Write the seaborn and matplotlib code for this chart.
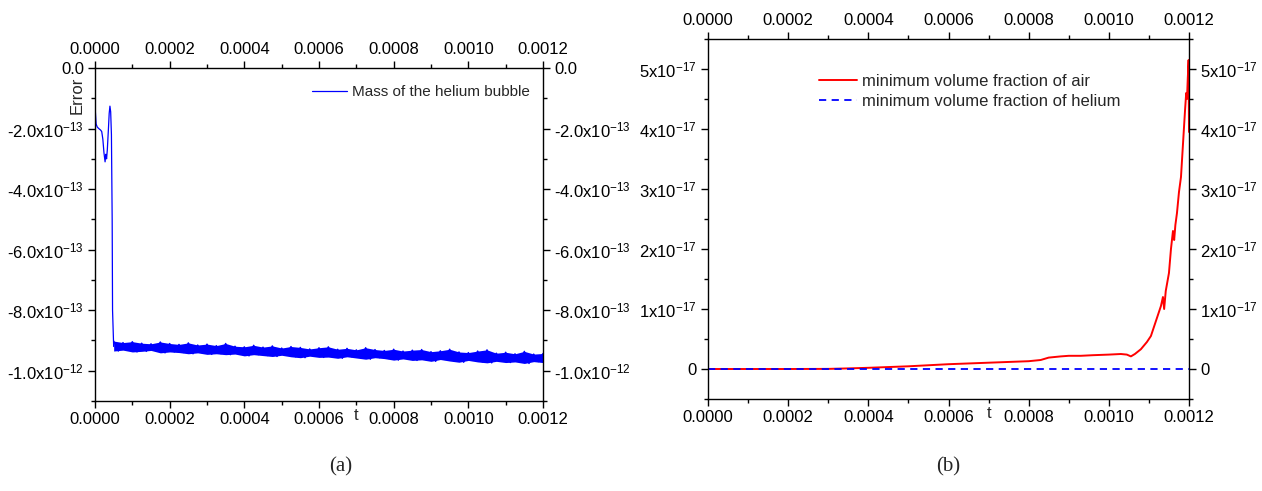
import numpy as np
import matplotlib
matplotlib.use("Agg")
import matplotlib.pyplot as plt
from matplotlib.ticker import FixedLocator, FuncFormatter
import seaborn as sns

# ---- panel (a): mass error of the helium bubble (t in 1e-4 s, error in 1e-13) ----
early_t = [0.0, 0.01, 0.03, 0.06, 0.10, 0.15, 0.18, 0.21, 0.24, 0.27, 0.29,
           0.31, 0.33, 0.36, 0.38, 0.40, 0.42, 0.44, 0.46, 0.47, 0.50]
early_err = [-1.30, -1.45, -1.85, -1.95, -2.00, -2.05, -2.10, -2.35, -2.80, -3.10, -2.85,
             -3.00, -2.70, -2.00, -1.50, -1.26, -1.45, -2.20, -5.00, -8.00, -9.20]

band_t = [0.5, 0.75, 1.0, 1.25, 1.5, 1.75, 2.0, 2.25, 2.5, 2.75, 3.0, 3.25,
          3.5, 3.75, 4.0, 4.25, 4.5, 4.75, 5.0, 5.25, 5.5, 5.75, 6.0, 6.25,
          6.5, 6.75, 7.0, 7.25, 7.5, 7.75, 8.0, 8.25, 8.5, 8.75, 9.0, 9.25,
          9.5, 9.75, 10.0, 10.25, 10.5, 10.75, 11.0, 11.25, 11.5, 11.75, 12.0]
band_upper = [-9.02, -9.07, -9.04, -9.09, -9.11, -9.05, -9.10, -9.13, -9.08, -9.15,
              -9.12, -9.17, -9.10, -9.19, -9.21, -9.16, -9.22, -9.18, -9.25, -9.20,
              -9.23, -9.28, -9.24, -9.21, -9.29, -9.26, -9.31, -9.24, -9.30, -9.33,
              -9.29, -9.35, -9.32, -9.30, -9.37, -9.34, -9.29, -9.38, -9.40, -9.35,
              -9.31, -9.42, -9.39, -9.44, -9.36, -9.45, -9.43]
band_lower = [-9.35, -9.32, -9.38, -9.36, -9.33, -9.41, -9.38, -9.40, -9.44, -9.41,
              -9.46, -9.44, -9.47, -9.45, -9.51, -9.47, -9.50, -9.53, -9.49, -9.54,
              -9.57, -9.52, -9.56, -9.55, -9.59, -9.54, -9.58, -9.62, -9.57, -9.60,
              -9.65, -9.61, -9.66, -9.64, -9.69, -9.63, -9.68, -9.72, -9.66, -9.71,
              -9.74, -9.69, -9.73, -9.71, -9.76, -9.70, -9.73]

# ---- panel (b): minimum volume fractions (t in 1e-4 s, value in 1e-17) ----
air_t = [0.0, 1.0, 2.0, 3.0, 3.5, 4.0, 5.0, 6.0, 7.0, 8.0, 8.3, 8.5, 8.8, 9.0, 9.3,
         9.6, 10.0, 10.3, 10.45, 10.55, 10.65, 10.8, 10.95, 11.05, 11.15, 11.25,
         11.3, 11.35, 11.38, 11.42, 11.5, 11.55, 11.6, 11.63, 11.66, 11.7, 11.75,
         11.8, 11.85, 11.9, 11.93, 11.95, 11.97, 11.99, 12.0]
air_min = [0.0, 0.0, 0.0, 0.002, 0.01, 0.02, 0.045, 0.08, 0.105, 0.13, 0.15, 0.19, 0.21, 0.22, 0.22,
           0.23, 0.24, 0.25, 0.24, 0.21, 0.25, 0.33, 0.45, 0.55, 0.75, 0.95,
           1.05, 1.20, 1.00, 1.30, 1.60, 2.00, 2.30, 2.15, 2.40, 2.60, 2.95,
           3.20, 3.75, 4.30, 4.60, 4.50, 4.85, 5.15, 3.95]
helium_t = [0.0, 12.0]
helium_min = [0.0, 0.0]

# tick positions
t_major = [0.0, 0.0002, 0.0004, 0.0006, 0.0008, 0.0010, 0.0012]
t_minor = [0.0001, 0.0003, 0.0005, 0.0007, 0.0009, 0.0011]
err_major = [-1.0e-12, -8e-13, -6e-13, -4e-13, -2e-13, 0.0]
err_minor = [-1.1e-12, -9e-13, -7e-13, -5e-13, -3e-13, -1e-13]
frac_major = [0.0, 1e-17, 2e-17, 3e-17, 4e-17, 5e-17]
frac_minor = [-0.5e-17, 0.5e-17, 1.5e-17, 2.5e-17, 3.5e-17, 4.5e-17, 5.5e-17]

T_UNIT = 1e-4

sns.set_style("ticks")
plt.rcParams["font.family"] = ["Liberation Sans", "DejaVu Sans"]
plt.rcParams["mathtext.fontset"] = "custom"
plt.rcParams["mathtext.rm"] = "Liberation Sans"
plt.rcParams["mathtext.it"] = "Liberation Sans:italic"
plt.rcParams["mathtext.bf"] = "Liberation Sans:bold"

W, H = 1262, 491
fig = plt.figure(figsize=(W / 100, H / 100), dpi=100)
fig.patch.set_facecolor("white")

ax1 = fig.add_axes([95 / W, 1 - 401 / H, 448 / W, 333 / H])
ax2 = fig.add_axes([708 / W, 1 - 399 / H, 481 / W, 360 / H])


def sci_one_decimal(v, pos):
    if abs(v) < 1e-25:
        return "0.0"
    e = int(np.floor(np.log10(abs(v)) + 1e-9))
    m = v / 10 ** e
    return f"{m:.1f}x10$^{{{e}}}$"


def sci_integer(v, pos):
    if abs(v) < 1e-25:
        return "0"
    e = int(np.floor(np.log10(abs(v)) + 1e-9))
    m = v / 10 ** e
    return f"{m:.0f}x10$^{{{e}}}$"


def style_axes(ax):
    for s in ax.spines.values():
        s.set_visible(True)
        s.set_linewidth(1.0)
        s.set_color("black")
    ax.set_facecolor("white")
    ax.set_xlim(0, 0.0012)
    ax.xaxis.set_major_locator(FixedLocator(t_major))
    ax.xaxis.set_minor_locator(FixedLocator(t_minor))
    ax.xaxis.set_major_formatter(FuncFormatter(lambda v, p: f"{v:.4f}"))
    ax.tick_params(which="both", direction="out", top=True, right=True,
                   labeltop=True, labelright=True, labelsize=12, colors="black",
                   width=1.0)
    ax.tick_params(which="major", length=5, pad=3)
    ax.tick_params(which="minor", length=3)
    ax.set_xlabel("")
    ax.set_ylabel("")
    ax.annotate("t", xy=(0.0007, 0), xycoords=("data", "axes fraction"),
                xytext=(0, -5), textcoords="offset points",
                ha="center", va="top", fontsize=12)


# panel (a)
t_a = np.array(early_t) * T_UNIT
err_a = np.array(early_err) * 1e-13
sns.lineplot(x=t_a, y=err_a, ax=ax1, color="#0000ff", lw=0.9, sort=False,
             estimator=None, label="Mass of the helium bubble")
bt = np.array(band_t) * T_UNIT
bu = np.array(band_upper) * 1e-13
bl = np.array(band_lower) * 1e-13
ax1.fill_between(bt, bl, bu, color="#0000ff", lw=0)
# the noisy signal jumps between the upper and lower envelope
zig_t = np.column_stack([bt, bt + 0.125 * T_UNIT]).ravel()[:-1]
zig_v = np.column_stack([bu, bl]).ravel()[:-1]
ax1.plot(zig_t, zig_v, color="#0000ff", lw=1.0)
style_axes(ax1)
ax1.set_ylim(-1.1e-12, 0)
ax1.yaxis.set_major_locator(FixedLocator(err_major))
ax1.yaxis.set_minor_locator(FixedLocator(err_minor))
ax1.yaxis.set_major_formatter(FuncFormatter(sci_one_decimal))
ax1.legend(loc="center left", bbox_to_anchor=(312 / W, 1 - 92 / H),
           bbox_transform=fig.transFigure, frameon=False, fontsize=11,
           handlelength=2.3, handletextpad=0.35, borderpad=0, borderaxespad=0)
fig.text(77 / W, 1 - 95 / H, "Error", rotation=90, ha="center", va="center",
         fontsize=12)

# panel (b)
sns.lineplot(x=np.array(air_t) * T_UNIT, y=np.array(air_min) * 1e-17, ax=ax2,
             color="#ff0000", lw=1.4, sort=False, estimator=None,
             label="minimum volume fraction of air")
sns.lineplot(x=np.array(helium_t) * T_UNIT, y=np.array(helium_min) * 1e-17, ax=ax2,
             color="#0000ff", lw=1.3, sort=False, estimator=None,
             label="minimum volume fraction of helium")
ax2.lines[-1].set_dashes([4, 3])
style_axes(ax2)
ax2.set_ylim(-0.5e-17, 5.5e-17)
ax2.yaxis.set_major_locator(FixedLocator(frac_major))
ax2.yaxis.set_minor_locator(FixedLocator(frac_minor))
ax2.yaxis.set_major_formatter(FuncFormatter(sci_integer))
leg2 = ax2.legend(loc="center left", bbox_to_anchor=(819 / W, 1 - 91 / H),
                  bbox_transform=fig.transFigure, frameon=False, fontsize=12,
                  handlelength=2.3, handletextpad=0.3, borderpad=0, borderaxespad=0,
                  labelspacing=0.3)
leg2.get_lines()[1].set_dashes([4, 3])

fig.text(341 / W, 1 - 467 / H, "(a)", family=["Liberation Serif", "DejaVu Serif"],
         fontsize=15, ha="center", va="center")
fig.text(948 / W, 1 - 467 / H, "(b)", family=["Liberation Serif", "DejaVu Serif"],
         fontsize=15, ha="center", va="center")

fig.savefig("out.png", dpi=100, facecolor="white")
